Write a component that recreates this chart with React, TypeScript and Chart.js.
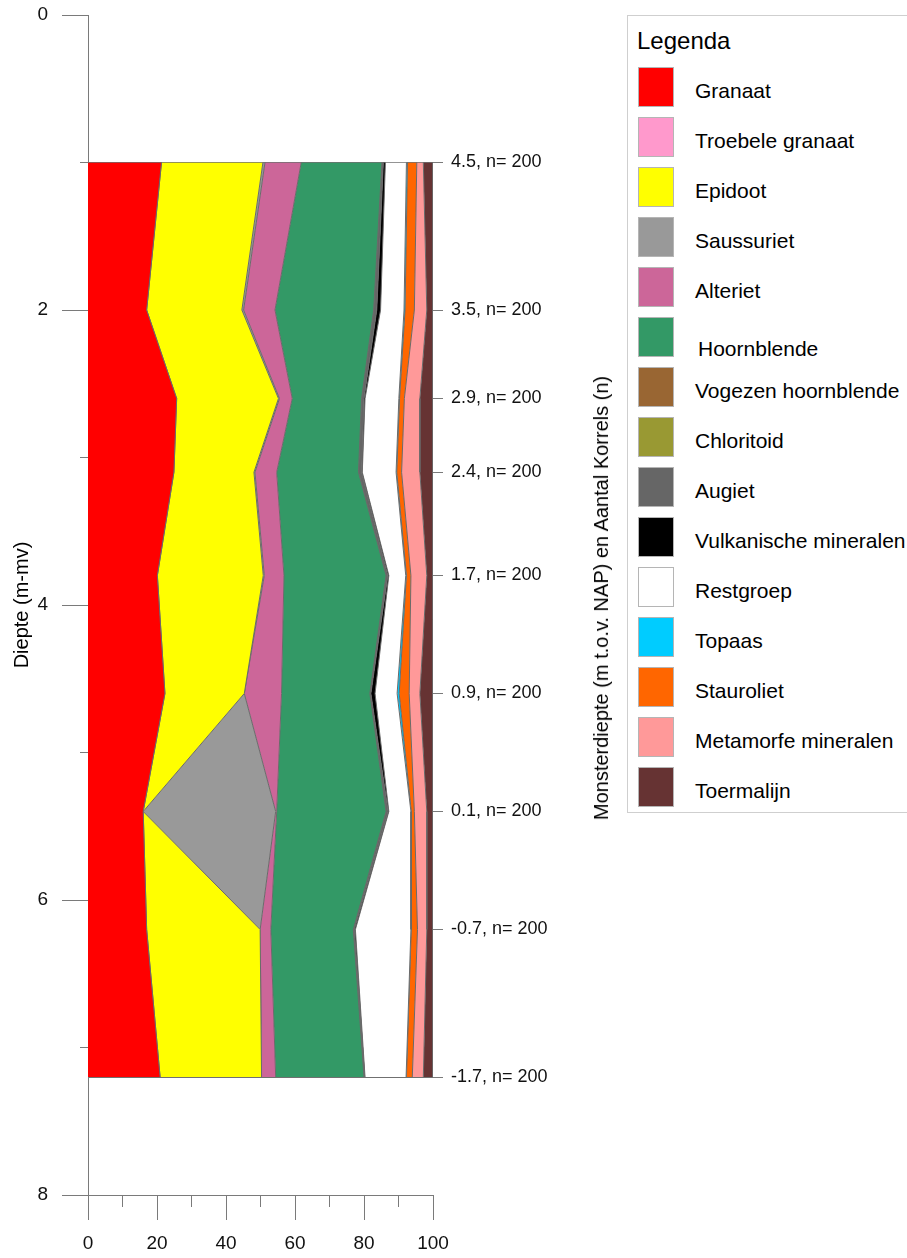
import React, { useEffect, useRef } from 'react';
import { Chart, registerables } from 'chart.js';

Chart.register(...registerables);

const FONT = "'Liberation Sans', Arial, Helvetica, sans-serif";

// Sample depths (m-mv) and right-hand labels
const depths = [1.0, 2.0, 2.6, 3.1, 3.8, 4.6, 5.4, 6.2, 7.2];
const sampleLabels = [
  '4.5, n= 200',
  '3.5, n= 200',
  '2.9, n= 200',
  '2.4, n= 200',
  '1.7, n= 200',
  '0.9, n= 200',
  '0.1, n= 200',
  '-0.7, n= 200',
  '-1.7, n= 200',
];

const mineralNames = [
  'Granaat',
  'Troebele granaat',
  'Epidoot',
  'Saussuriet',
  'Alteriet',
  'Hoornblende',
  'Vogezen hoornblende',
  'Chloritoid',
  'Augiet',
  'Vulkanische mineralen',
  'Restgroep',
  'Topaas',
  'Stauroliet',
  'Metamorfe mineralen',
  'Toermalijn',
];

const mineralColors = [
  '#FF0000',
  '#FF99CC',
  '#FFFF00',
  '#999999',
  '#CC6699',
  '#339966',
  '#996633',
  '#999933',
  '#666666',
  '#000000',
  '#FFFFFF',
  '#00CCFF',
  '#FF6600',
  '#FF9999',
  '#663333',
];

// Percentages per mineral at each sample depth
const granaat = [21.3, 17.0, 25.7, 24.9, 20.1, 22.3, 16.0, 17.0, 20.9];
const troebeleGranaat = [0, 0, 0, 0, 0, 0, 0, 0, 0];
const epidoot = [29.4, 27.6, 29.5, 23.2, 30.7, 23.0, 0, 32.9, 29.4];
const saussuriet = [0.6, 0.5, 0.3, 0.3, 0.3, 0, 38.4, 0, 0];
const alteriet = [10.5, 9.1, 3.7, 6.3, 5.7, 10.8, 0.3, 3.1, 4.1];
const hoornblende = [23.4, 28.6, 20.1, 23.7, 29.6, 25.6, 31.7, 23.9, 25.6];
const vogezenHoornblende = [0, 0, 0, 0, 0, 0, 0, 0, 0];
const chloritoid = [0, 0, 0, 0, 0, 0, 0, 0, 0];
const augiet = [0.4, 0.9, 0.7, 0.9, 0.5, 0.3, 0.6, 0.3, 0.2];
const vulkanisch = [0.6, 1.1, 0.3, 0.2, 0.3, 1.2, 0.2, 0.3, 0.1];
const restgroep = [6.1, 6.8, 9.8, 9.8, 4.9, 6.4, 6.4, 16.1, 11.9];
const topaas = [0.3, 0.3, 0.2, 0.2, 0.2, 0.6, 0.1, 0.1, 0.1];
const stauroliet = [2.7, 2.7, 1.4, 1.4, 1.3, 2.9, 0.9, 1.8, 1.7];
const metamorf = [1.9, 3.6, 4.5, 5.3, 4.6, 3.1, 3.6, 2.7, 3.2];
const toermalijn = [2.8, 1.8, 3.8, 3.8, 1.8, 3.8, 1.8, 1.8, 2.8];

const seriesValues = [
  granaat,
  troebeleGranaat,
  epidoot,
  saussuriet,
  alteriet,
  hoornblende,
  vogezenHoornblende,
  chloritoid,
  augiet,
  vulkanisch,
  restgroep,
  topaas,
  stauroliet,
  metamorf,
  toermalijn,
];

const AXIS_GRAY = '#7a7a7a';

export default function App() {
  const canvasRef = useRef<HTMLCanvasElement | null>(null);

  useEffect(() => {
    const canvas = canvasRef.current;
    if (!canvas) return;
    Chart.defaults.font.family = FONT;
    const chart = new Chart(canvas, {
      type: 'line',
      data: {
        datasets: mineralNames.map((name, i) => ({
          label: name,
          data: depths.map((d, j) => ({ x: seriesValues[i][j], y: d })),
          backgroundColor: mineralColors[i],
          borderColor: '#6a6a6a',
          borderWidth: 1,
          pointRadius: 0,
          pointHoverRadius: 0,
          tension: 0,
          fill: i === 0 ? 'origin' : '-1',
          xAxisID: 'x',
          yAxisID: 'y',
        })),
      },
      options: {
        indexAxis: 'y',
        responsive: false,
        animation: false,
        events: [],
        layout: { padding: { top: 15, left: 0, right: 0, bottom: 0 } },
        plugins: {
          legend: { display: false },
          tooltip: { enabled: false },
        },
        scales: {
          x: {
            type: 'linear',
            position: 'bottom',
            stacked: true,
            min: 0,
            max: 100,
            ticks: { stepSize: 20, padding: 12, font: { family: FONT, size: 19 }, color: '#111' },
            grid: { drawOnChartArea: false, tickLength: 25, color: AXIS_GRAY },
            border: { display: true, color: AXIS_GRAY },
            afterFit: (s: any) => {
              s.height = 63;
            },
          },
          xMinor: {
            type: 'linear',
            axis: 'x',
            position: { y: 8 },
            min: 0,
            max: 100,
            ticks: { stepSize: 10, display: false },
            grid: { drawOnChartArea: false, tickLength: 12, color: AXIS_GRAY },
            border: { display: false },
          },
          y: {
            type: 'linear',
            position: 'left',
            min: 0,
            max: 8,
            reverse: true,
            ticks: { stepSize: 2, padding: 14, font: { family: FONT, size: 19 }, color: '#111' },
            grid: { drawOnChartArea: false, tickLength: 26, color: AXIS_GRAY },
            border: { display: true, color: AXIS_GRAY },
            title: {
              display: true,
              text: 'Diepte (m-mv)',
              font: { family: FONT, size: 20 },
              color: '#000',
              padding: { top: 10, bottom: 0 },
            },
            afterFit: (s: any) => {
              s.width = 88;
              s.paddingTop = 0;
              s.paddingBottom = 0;
            },
          },
          yMinor: {
            type: 'linear',
            axis: 'y',
            position: { x: 0 },
            min: 0,
            max: 8,
            reverse: true,
            ticks: { stepSize: 1, display: false },
            grid: { drawOnChartArea: false, tickLength: 8, color: AXIS_GRAY },
            border: { display: false },
          },
          yRight: {
            type: 'linear',
            position: 'right',
            min: 0,
            max: 8,
            reverse: true,
            z: 1,
            afterBuildTicks: (s: any) => {
              s.ticks = depths.map((v) => ({ value: v }));
            },
            ticks: {
              callback: (_v: any, i: number) => sampleLabels[i],
              padding: 8,
              font: { family: FONT, size: 18 },
              color: '#111',
            },
            grid: {
              drawOnChartArea: true,
              tickLength: 10,
              color: (ctx: any) =>
                ctx.index === 0 || ctx.index === depths.length - 1 ? '#707070' : 'rgba(0,0,0,0)',
              tickColor: AXIS_GRAY,
            },
            border: { display: false },
            afterFit: (s: any) => {
              s.width = 187;
              s.paddingTop = 0;
              s.paddingBottom = 0;
            },
          },
        },
      } as any,
    });
    return () => chart.destroy();
  }, []);

  return (
    <div
      style={{
        position: 'absolute',
        left: 0,
        top: 0,
        width: 907,
        height: 1258,
        overflow: 'hidden',
        background: '#fff',
        fontFamily: FONT,
      }}
    >
      <canvas
        ref={canvasRef}
        width={620}
        height={1258}
        style={{ position: 'absolute', left: 0, top: 0, width: 620, height: 1258 }}
      />
      <div
        style={{
          position: 'absolute',
          left: 601,
          top: 598,
          transform: 'translate(-50%, -50%) rotate(-90deg)',
          whiteSpace: 'nowrap',
          fontSize: 20,
          lineHeight: '24px',
          color: '#000',
        }}
      >
        Monsterdiepte (m t.o.v. NAP) en Aantal Korrels (n)
      </div>
      <div
        style={{
          position: 'absolute',
          left: 627,
          top: 15,
          width: 300,
          height: 798,
          boxSizing: 'border-box',
          border: '1px solid #cfcfcf',
        }}
      />
      <div
        style={{
          position: 'absolute',
          left: 637,
          top: 28,
          fontSize: 24,
          lineHeight: '26px',
          color: '#000',
          whiteSpace: 'nowrap',
        }}
      >
        Legenda
      </div>
      {mineralNames.map((name, i) => (
        <React.Fragment key={name}>
          <div
            style={{
              position: 'absolute',
              left: 638,
              top: 67 + 50 * i,
              width: 36,
              height: 40,
              boxSizing: 'border-box',
              border: '1px solid #b5b5b5',
              background: mineralColors[i],
            }}
          />
          <div
            style={{
              position: 'absolute',
              left: name === 'Hoornblende' ? 698 : 695,
              top: 79 + 50 * i + (name === 'Hoornblende' ? 8 : 0),
              fontSize: 21,
              lineHeight: '24px',
              color: '#000',
              whiteSpace: 'nowrap',
            }}
          >
            {name}
          </div>
        </React.Fragment>
      ))}
    </div>
  );
}
